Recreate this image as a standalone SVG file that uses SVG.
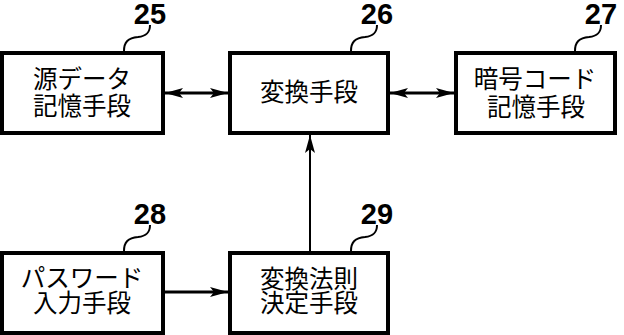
<svg xmlns="http://www.w3.org/2000/svg" width="624" height="335" viewBox="0 0 624 335">
<style>
.box{fill:#fff;stroke:#000;stroke-width:4}
.t{font-family:"Noto Sans CJK JP","Noto Sans",sans-serif;font-size:24.5px;fill:#000;text-anchor:middle}
.n{font-family:"Liberation Sans Narrow","Liberation Sans",sans-serif;font-size:29px;font-weight:bold;fill:#000;text-anchor:middle}
.lead{fill:none;stroke:#000;stroke-width:2}
.conn{fill:none;stroke:#000}
</style>
<defs>
<marker id="ah" viewBox="0 0 18 10" refX="18" refY="5" markerWidth="18" markerHeight="10" markerUnits="userSpaceOnUse" orient="auto-start-reverse">
<path d="M0,0 L18,5 L0,10 L4,5 z" fill="#000"/>
</marker>
</defs>
<g id="connectors">
<line class="conn" x1="165" y1="93" x2="228" y2="93" stroke-width="3" marker-start="url(#ah)" marker-end="url(#ah)"/>
<line class="conn" x1="390" y1="93" x2="454" y2="93" stroke-width="3" marker-start="url(#ah)" marker-end="url(#ah)"/>
<line class="conn" x1="165" y1="292" x2="228" y2="292" stroke-width="3" marker-end="url(#ah)"/>
<line class="conn" x1="310" y1="251" x2="310" y2="135" stroke-width="2" marker-end="url(#ah)"/>
</g>
<g id="n25">
<rect class="box" x="2" y="53" width="161" height="80"/>
<text class="t" x="82" y="88">源データ</text>
<text class="t" x="82" y="115">記憶手段</text>
<text class="n" x="150" y="24">25</text>
<path class="lead" d="M150,25 C150,33 146,36 138,37 C128,38 124,42 124,51"/>
</g>
<g id="n26">
<rect class="box" x="230" y="53" width="158" height="80"/>
<text class="t" x="309" y="101">変換手段</text>
<text class="n" x="377" y="24">26</text>
<path class="lead" d="M377,25 C377,33 373,36 365,37 C355,38 351,42 351,51"/>
</g>
<g id="n27">
<rect class="box" x="456" y="53" width="159" height="80"/>
<text class="t" x="535" y="88">暗号コード</text>
<text class="t" x="536" y="116">記憶手段</text>
<text class="n" x="601" y="24">27</text>
<path class="lead" d="M601,25 C601,33 597,36 589,37 C579,38 575,42 575,51"/>
</g>
<g id="n28">
<rect class="box" x="2" y="253" width="161" height="80"/>
<text class="t" x="82" y="287">パスワード</text>
<text class="t" x="82" y="312">入力手段</text>
<text class="n" x="150" y="224">28</text>
<path class="lead" d="M150,225 C150,233 146,236 138,237 C128,238 124,242 124,251"/>
</g>
<g id="n29">
<rect class="box" x="230" y="253" width="158" height="80"/>
<text class="t" x="309" y="288">変換法則</text>
<text class="t" x="309" y="312">決定手段</text>
<text class="n" x="377" y="224">29</text>
<path class="lead" d="M377,225 C377,233 373,236 365,237 C355,238 351,242 351,251"/>
</g>
</svg>
